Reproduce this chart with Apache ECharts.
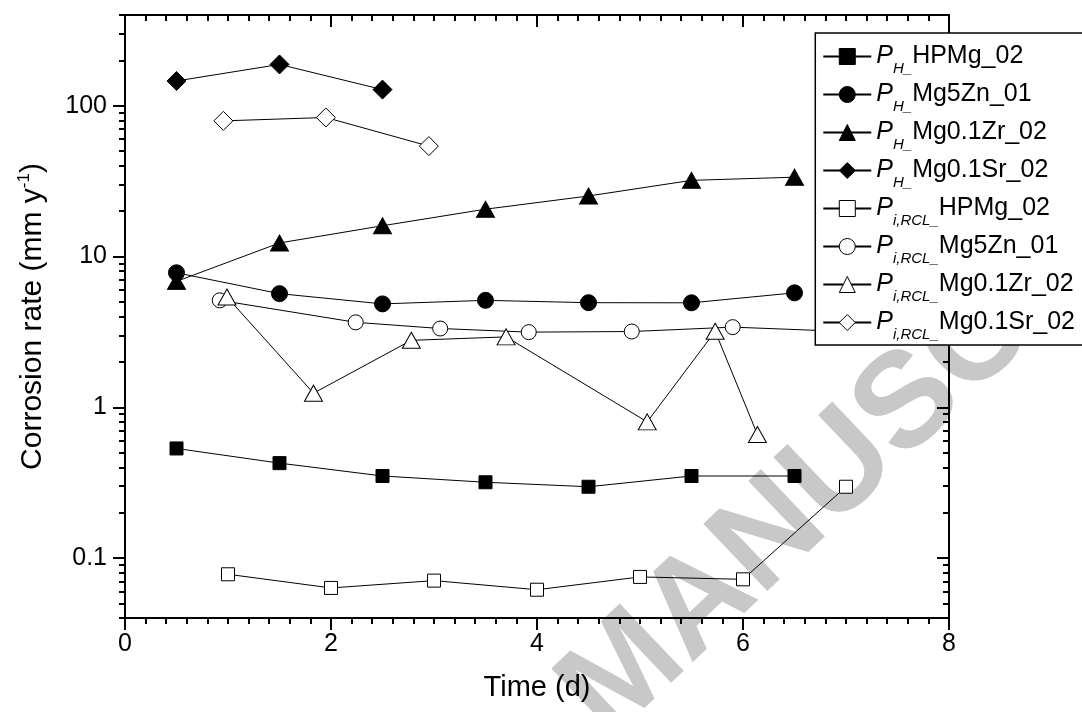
<!DOCTYPE html>
<html>
<head>
<meta charset="utf-8">
<script src="https://cdn.jsdelivr.net/npm/echarts@6/dist/echarts.min.js"></script>
<style>
  html, body { margin: 0; padding: 0; background: #fff; }
  #chart { width: 1082px; height: 712px; }
</style>
</head>
<body>
<div id="chart"></div>
<script>
// Corrosion rate over time: hydrogen evolution (P_H) and weight-loss (P_i,RCL) rates
const daysPH = [0.5, 1.5, 2.5, 3.5, 4.5, 5.5, 6.5];
const hpmgPH = [0.533, 0.426, 0.35, 0.318, 0.297, 0.35, 0.35];
const mg5znPH = [7.8, 5.67, 4.85, 5.12, 4.94, 4.93, 5.74];
const mgZrPH = [6.84, 12.3, 16.0, 20.6, 25.2, 32, 33.6];
const daysSrPH = [0.5, 1.5, 2.5];
const mgSrPH = [146, 188, 128];

const daysHpmgRCL = [1, 2, 3, 4, 5, 6, 7];
const hpmgRCL = [0.078, 0.0633, 0.0708, 0.0616, 0.0749, 0.0722, 0.297];
const daysZnRCL = [0.92, 2.24, 3.06, 3.92, 4.92, 5.9, 6.9];
const mg5znRCL = [5.12, 3.66, 3.33, 3.15, 3.18, 3.4, 3.2];
const daysZrRCL = [0.99, 1.83, 2.78, 3.70, 5.07, 5.73, 6.14];
const mgZrRCL = [5.39, 1.24, 2.78, 2.93, 0.80, 3.19, 0.66];
const daysSrRCL = [0.955, 1.95, 2.95];
const mgSrRCL = [79.4, 83.6, 54];

// legend text parts
const subscripts = ['H', 'H', 'H', 'H', 'i,RCL', 'i,RCL', 'i,RCL', 'i,RCL'];
const alloys = ['HPMg_02', 'Mg5Zn_01', 'Mg0.1Zr_02', 'Mg0.1Sr_02', 'HPMg_02', 'Mg5Zn_01', 'Mg0.1Zr_02', 'Mg0.1Sr_02'];

// axis ticks
const xTicksMajor = [0, 2, 4, 6, 8];
const yTicksMajor = [0.1, 1, 10, 100];
const yTicksMinor = [0.04, 0.05, 0.06, 0.07, 0.08, 0.09,
  0.2, 0.3, 0.4, 0.5, 0.6, 0.7, 0.8, 0.9,
  2, 3, 4, 5, 6, 7, 8, 9,
  20, 30, 40, 50, 60, 70, 80, 90,
  200, 300, 400];

const FONT = "'Liberation Sans', Arial, Helvetica, sans-serif";
const BLACK = '#000';

const xs = [daysPH, daysPH, daysPH, daysSrPH, daysHpmgRCL, daysZnRCL, daysZrRCL, daysSrRCL];
const ys = [hpmgPH, mg5znPH, mgZrPH, mgSrPH, hpmgRCL, mg5znRCL, mgZrRCL, mgSrRCL];
const symbols = ['rect', 'circle', 'triangle', 'diamond', 'rect', 'circle', 'triangle', 'diamond'];
const symbolSizes = [13, 16, [18, 16], [19, 19], 13, 15, [18, 16], [19, 19]];
const filled = [true, true, true, true, false, false, false, false];

const names = subscripts.map((s, i) => 'P' + s + ' ' + alloys[i]);

const series = names.map((name, i) => ({
  name: name,
  type: 'line',
  data: xs[i].map((x, k) => [x, ys[i][k]]),
  symbol: symbols[i],
  symbolSize: symbolSizes[i],
  showSymbol: true,
  lineStyle: { color: BLACK, width: 1 },
  itemStyle: filled[i]
    ? { color: BLACK, borderColor: BLACK, borderWidth: 1 }
    : { color: '#fff', borderColor: BLACK, borderWidth: 1 },
  emphasis: { disabled: true },
  z: filled[i] ? 3 : 2
}));

function logAxis(position, ticks, len, inside, withLine, labels) {
  return {
    type: 'log',
    logBase: 10,
    min: 0.04,
    max: 400,
    position: position,
    axisLine: { show: withLine, onZero: false, lineStyle: { color: BLACK, width: 2 } },
    axisTick: { show: true, inside: inside, length: len, customValues: ticks,
      lineStyle: { color: BLACK, width: 2 } },
    minorTick: { show: false },
    axisLabel: labels
      ? { show: true, customValues: ticks, margin: 18, color: BLACK, fontFamily: FONT, fontSize: 25,
          formatter: v => String(+Number(v).toPrecision(3)) }
      : { show: false },
    splitLine: { show: false }
  };
}

const yAxes = [
  logAxis('left', yTicksMajor, 12, false, true, true),
  logAxis('left', yTicksMinor, 6, false, false, false),
  logAxis('right', yTicksMajor, 12, true, true, false),
  logAxis('right', yTicksMinor, 6, true, false, false)
];
yAxes[0].name = '{a|Corrosion rate (mm y}{s|-1}{a|)}';
yAxes[0].nameLocation = 'middle';
yAxes[0].nameRotate = 90;
yAxes[0].nameGap = 75;
yAxes[0].nameTextStyle = {
  rich: {
    a: { fontFamily: FONT, fontSize: 30, color: BLACK, lineHeight: 34 },
    s: { fontFamily: FONT, fontSize: 17, color: BLACK, lineHeight: 17, verticalAlign: 'top' }
  }
};

function timeAxis(position, inside, labels) {
  return {
    type: 'value',
    min: xTicksMajor[0],
    max: xTicksMajor[xTicksMajor.length - 1],
    interval: 2,
    position: position,
    axisLine: { show: true, onZero: false, lineStyle: { color: BLACK, width: 2 } },
    axisTick: { show: true, inside: inside, length: 12, lineStyle: { color: BLACK, width: 2 } },
    minorTick: { show: true, splitNumber: 10, length: 6, lineStyle: { color: BLACK, width: 2 } },
    axisLabel: labels
      ? { show: true, margin: 14, color: BLACK, fontFamily: FONT, fontSize: 25 }
      : { show: false },
    splitLine: { show: false }
  };
}

const xAxes = [timeAxis('bottom', false, true), timeAxis('top', true, false)];
xAxes[0].name = 'Time (d)';
xAxes[0].nameLocation = 'middle';
xAxes[0].nameGap = 55;
xAxes[0].nameTextStyle = { fontFamily: FONT, fontSize: 29, color: BLACK };

const legendRich = {
  p: { fontFamily: FONT, fontSize: 25, fontStyle: 'italic', color: BLACK, lineHeight: 30 },
  sub: { fontFamily: FONT, fontSize: 15, fontStyle: 'italic', color: BLACK, lineHeight: 10, padding: [24, 0, 0, 0] },
  t: { fontFamily: FONT, fontSize: 25, color: BLACK, lineHeight: 30 }
};

const option = {
  animation: false,
  backgroundColor: '#fff',
  grid: { left: 125, right: 133, top: 15, bottom: 94, containLabel: false },
  xAxis: xAxes,
  yAxis: yAxes,
  legend: {
    orient: 'vertical',
    right: -13,
    top: 33,
    padding: [4, 20, 3, 7],
    itemGap: -1,
    itemWidth: 48,
    itemHeight: 20,
    borderColor: BLACK,
    borderWidth: 1.5,
    borderRadius: 0,
    backgroundColor: '#fff',
    selectedMode: false,
    itemStyle: { borderWidth: 1 },
    data: names,
    formatter: function (name) {
      const i = names.indexOf(name);
      return '{p|P}{sub|' + subscripts[i] + '_}{t|' + alloys[i] + '}';
    },
    textStyle: { rich: legendRich }
  },
  graphic: {
    elements: [{
      type: 'text',
      x: 583,
      y: 715,
      rotation: 0.76,
      z: -10,
      silent: true,
      style: {
        text: 'MANUSCRIPT',
        fontFamily: FONT,
        fontWeight: 'bold',
        fontSize: 135,
        fill: '#c8c8c8',
        align: 'left',
        verticalAlign: 'middle'
      }
    }]
  },
  series: series
};

const chart = echarts.init(document.getElementById('chart'), null, { renderer: 'canvas' });
chart.setOption(option);
</script>
</body>
</html>
